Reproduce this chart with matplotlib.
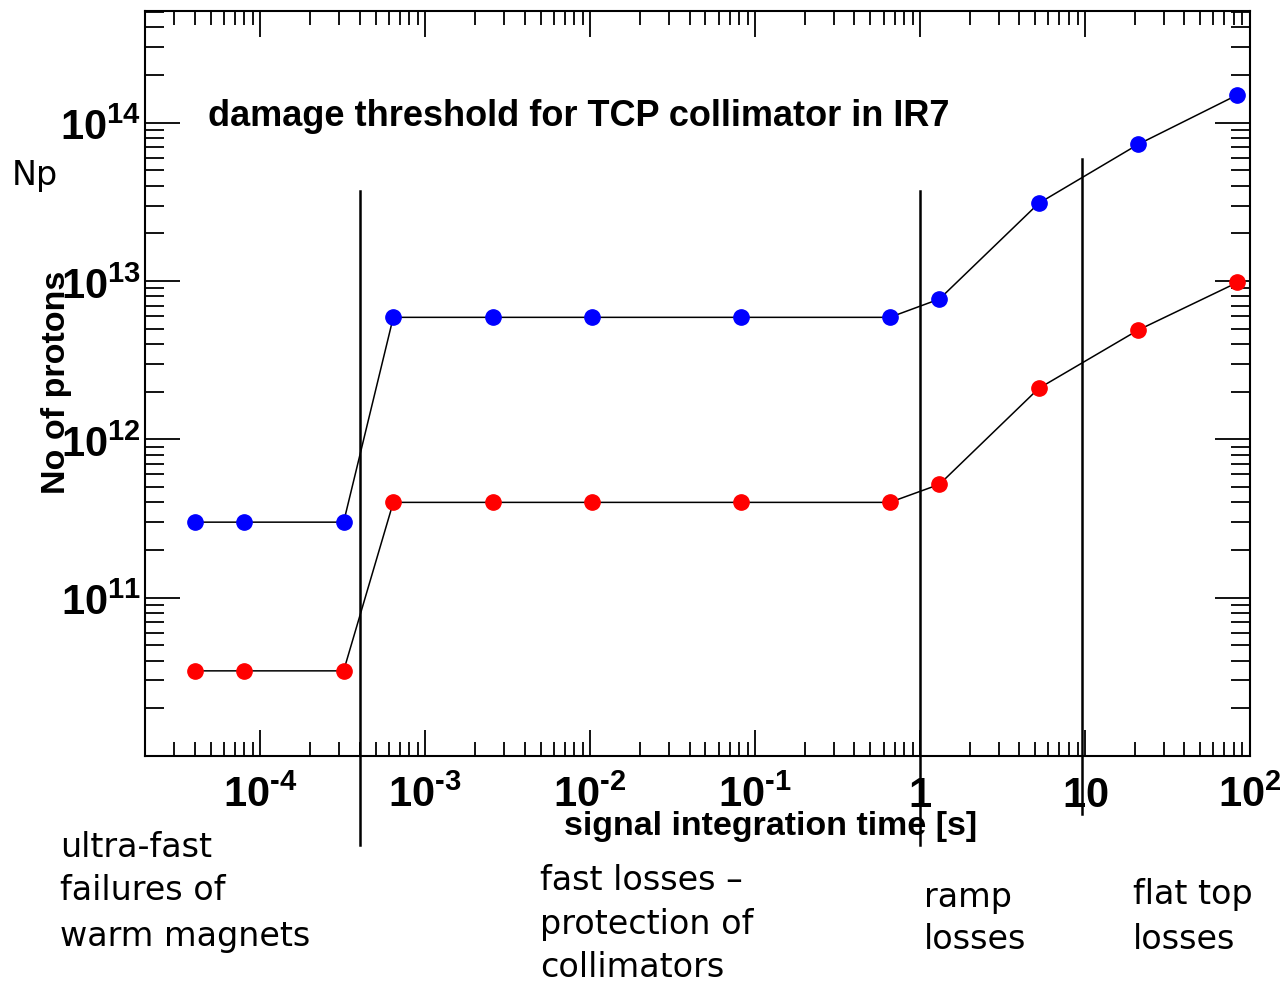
import matplotlib
matplotlib.use("Agg")
import matplotlib.pyplot as plt
import matplotlib.transforms as mtransforms
from matplotlib.ticker import LogLocator, NullFormatter, FixedLocator, FixedFormatter

# ---- data ----
times = [4e-5, 8e-5, 3.2e-4, 6.4e-4, 2.56e-3, 1.024e-2, 8.192e-2, 0.655, 1.31, 5.24, 20.97, 83.89]
blue_np = [3.0e11, 3.0e11, 3.0e11, 5.9e12, 5.9e12, 5.9e12, 5.9e12, 5.9e12, 7.7e12, 3.1e13, 7.3e13, 1.5e14]
red_np = [3.45e10, 3.45e10, 3.45e10, 4.0e11, 4.0e11, 4.0e11, 4.0e11, 4.0e11, 5.2e11, 2.1e12, 4.9e12, 9.8e12]
xtick_vals = [1e-4, 1e-3, 1e-2, 1e-1, 1, 10, 100]
xtick_labels = ['$10^{\u20104}$', '$10^{\u20103}$', '$10^{\u20102}$', '$10^{\u20101}$',
                '$1$', '$10$', '$10^{2}$']
ytick_vals = [1e11, 1e12, 1e13, 1e14]
ytick_labels = [r'$10^{11}$', r'$10^{12}$', r'$10^{13}$', r'$10^{14}$']
boundaries = [4.0e-4, 1.0, 9.6]

plt.rcParams['mathtext.fontset'] = 'custom'
plt.rcParams['mathtext.rm'] = 'Liberation Sans:bold'
plt.rcParams['mathtext.it'] = 'Liberation Sans:bold'
plt.rcParams['mathtext.bf'] = 'Liberation Sans:bold'

W, H = 1286, 987
fig = plt.figure(figsize=(W / 100, H / 100), dpi=100)
ax = fig.add_axes([145 / W, 1 - 757 / H, (1250 - 145) / W, (757 - 12) / H])
ax.set_xscale('log')
ax.set_yscale('log')
ax.set_xlim(2e-5, 100)
ax.set_ylim(1e10, 5.08e14)

ax.plot(times, blue_np, color='black', lw=1.1, zorder=2)
ax.plot(times, red_np, color='black', lw=1.1, zorder=2)
ax.plot(times, blue_np, 'o', color='#0000ff', ms=11, mec='#0000ff', zorder=3)
ax.plot(times, red_np, 'o', color='#ff0000', ms=11, mec='#ff0000', zorder=3)

for s in ax.spines.values():
    s.set_linewidth(1.5)

ax.xaxis.set_major_locator(FixedLocator(xtick_vals))
ax.xaxis.set_major_formatter(FixedFormatter(xtick_labels))
ax.xaxis.set_minor_locator(LogLocator(base=10, subs=range(2, 10), numticks=50))
ax.xaxis.set_minor_formatter(NullFormatter())
ax.yaxis.set_major_locator(FixedLocator(ytick_vals))
ax.yaxis.set_major_formatter(FixedFormatter(ytick_labels))
ax.yaxis.set_minor_locator(LogLocator(base=10, subs=range(2, 10), numticks=50))
ax.yaxis.set_minor_formatter(NullFormatter())

ax.tick_params(axis='x', which='major', direction='in', length=19, width=1.3,
               top=True, bottom=True, labelsize=30, pad=12)
ax.tick_params(axis='x', which='minor', direction='in', length=10, width=1.3,
               top=True, bottom=True)
ax.tick_params(axis='y', which='major', direction='in', length=25, width=1.3,
               left=True, right=True, labelsize=30, pad=3)
ax.tick_params(axis='y', which='minor', direction='in', length=13.5, width=1.3,
               left=True, right=True)

# title inside plot
fig.text(208 / W, 1 - 116 / H, 'damage threshold for TCP collimator in IR7',
         fontsize=26, fontweight='bold', family='Liberation Sans', ha='left', va='center')
# axis labels
fig.text(57 / W, 1 - 382 / H, 'No of protons', rotation=90, fontsize=24.5,
         fontweight='bold', family='Liberation Sans', ha='center', va='center')
fig.text(771 / W, 1 - 827 / H, 'signal integration time [s]', fontsize=24.5,
         fontweight='bold', family='Liberation Sans', ha='center', va='center')
fig.text(12 / W, 1 - 176 / H, 'Np', fontsize=24, family='DejaVu Sans', ha='left', va='center')

# separator lines
trans = mtransforms.blended_transform_factory(ax.transData, fig.transFigure)
spans = [(192, 846), (192, 846), (160, 815)]
for xb, (y0, y1) in zip(boundaries, spans):
    ax.plot([xb, xb], [1 - y0 / H, 1 - y1 / H], color='black', lw=1.8,
            transform=trans, clip_on=False, zorder=4)

# region annotations
ann_font = dict(fontsize=24, family='DejaVu Sans', ha='left', va='center')
blocks = [
    (60, [848, 891, 937], ['ultra-fast', 'failures of', 'warm magnets']),
    (540, [880, 925, 968], ['fast losses \u2013', 'protection of', 'collimators']),
    (924, [897, 940], ['ramp', 'losses']),
    (1133, [895, 940], ['flat top', 'losses']),
]
for x, ys, lines in blocks:
    for y, t in zip(ys, lines):
        fig.text(x / W, 1 - y / H, t, **ann_font)

fig.savefig('out.png', dpi=100)
